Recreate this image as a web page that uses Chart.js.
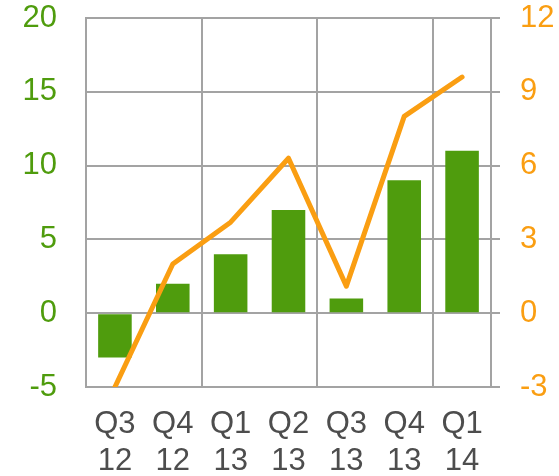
<!DOCTYPE html>
<html>
<head>
<meta charset="utf-8">
<script src="https://cdn.jsdelivr.net/npm/chart.js@4.4.1/dist/chart.umd.min.js"></script>
<style>
  html, body { margin: 0; padding: 0; background: #fff; }
  #wrap { width: 559px; height: 476px; }
</style>
</head>
<body>
<div id="wrap"><canvas id="myChart"></canvas></div>
<script>
// datos
var quarters = [['Q3', '12'], ['Q4', '12'], ['Q1', '13'], ['Q2', '13'], ['Q3', '13'], ['Q4', '13'], ['Q1', '14']];
var barValues = [-3, 2, 4, 7, 1, 9, 11];
var lineValues = [-3, 2, 3.7, 6.3, 1.1, 8, 9.6];
var leftTicks = [-5, 0, 5, 10, 15, 20];
var rightTicks = [-3, 0, 3, 6, 9, 12];

var green = '#4f9c0d';
var orange = '#fa9e12';
var gridColor = '#a3a3a3';

function fitY(width) {
  return function (s) {
    s.width = width;
    s.paddingTop = 0;
    s.paddingBottom = 0;
  };
}

function renderChart() {
  var ctx = document.getElementById('myChart').getContext('2d');
  var myChart = new Chart(ctx, {
    data: {
      labels: quarters,
      datasets: [
        {
          type: 'line',
          data: lineValues,
          yAxisID: 'y2',
          borderColor: orange,
          borderWidth: 5,
          borderCapStyle: 'round',
          borderJoinStyle: 'round',
          pointRadius: 0,
          tension: 0,
          order: 0
        },
        {
          type: 'bar',
          data: barValues,
          yAxisID: 'y',
          backgroundColor: green,
          barPercentage: 0.58,
          categoryPercentage: 1,
          order: 1
        }
      ]
    },
    options: {
      responsive: true,
      maintainAspectRatio: false,
      animation: false,
      layout: { padding: { top: 18, left: 0, right: 0, bottom: 0 } },
      plugins: { legend: { display: false }, tooltip: { enabled: false } },
      scales: {
        x: {
          offset: true,
          grid: {
            offset: true,
            drawTicks: false,
            lineWidth: 2,
            color: function (c) {
              return (c.index % 2 === 0 || c.index === 7) ? gridColor : 'rgba(0,0,0,0)';
            }
          },
          border: { display: true, color: gridColor, width: 2 },
          ticks: {
            color: '#4d4d4d',
            padding: 19,
            maxRotation: 0,
            autoSkip: false,
            font: { family: 'Liberation Sans', size: 31, lineHeight: 1.19 }
          },
          afterFit: function (s) { s.height = 89; s.paddingLeft = 0; s.paddingRight = 0; }
        },
        y: {
          position: 'left',
          min: -5,
          max: 20,
          afterBuildTicks: function (s) { s.ticks = leftTicks.map(function (v) { return { value: v }; }); },
          grid: { drawTicks: false, lineWidth: 2, color: gridColor },
          border: { display: true, color: gridColor, width: 2 },
          ticks: {
            color: green,
            padding: 29,
            font: { family: 'Liberation Sans', size: 31 }
          },
          afterFit: fitY(86)
        },
        y2: {
          position: 'right',
          min: -3,
          max: 12,
          afterBuildTicks: function (s) { s.ticks = rightTicks.map(function (v) { return { value: v }; }); },
          grid: { drawOnChartArea: false, drawTicks: true, tickLength: 9, lineWidth: 2, color: gridColor },
          border: { display: true, color: gridColor, width: 2 },
          ticks: {
            color: orange,
            padding: 20,
            font: { family: 'Liberation Sans', size: 31 }
          },
          afterFit: fitY(68)
        }
      }
    }
  });
}
renderChart();
</script>
</body>
</html>
